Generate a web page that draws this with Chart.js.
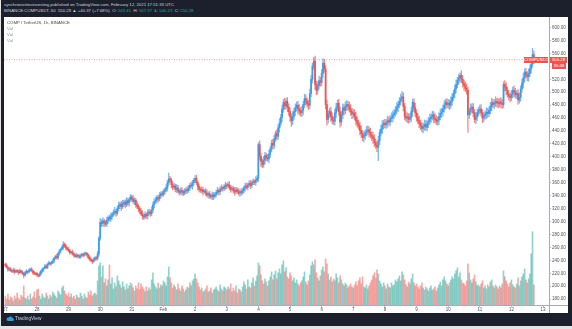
<!DOCTYPE html>
<html>
<head>
<meta charset="utf-8">
<script src="https://cdn.jsdelivr.net/npm/chart.js@4.4.1/dist/chart.umd.min.js"></script>
<style>
  body { margin: 0; width: 572px; height: 329px; background: #e4e4e4; overflow: hidden; font-family: "Liberation Sans", Arial, sans-serif; }
  #frame { position: absolute; left: 1px; top: 0; width: 571px; height: 326px; background: #1c202c; }
  .head { position: absolute; left: 4px; font-size: 4.3px; color: #d1d4dc; white-space: nowrap; }
  .head .g { color: #26a69a; }
  #panel { position: absolute; left: 4px; top: 17px; width: 564px; height: 296px; background: #fff; }
  #panel canvas { position: absolute; left: 0; top: 0; }
  .leg { position: absolute; left: 3px; font-size: 4.3px; color: #8a8d96; white-space: nowrap; }
  .sep { position: absolute; background: #a8abb3; }
  #foot { position: absolute; left: 6px; top: 316px; font-size: 4.8px; color: #c9ccd4; white-space: nowrap; }
  #foot svg { vertical-align: -1px; margin-right: 1px; }
</style>
</head>
<body>
<div id="frame"></div>
<div class="head" style="top:2px">synchronicitiesinvesting published on TradingView.com, February 12, 2021 17:51:33 UTC</div>
<div class="head" style="top:8px">BINANCE:COMPUSDT, 60&nbsp; 550.28 ▲ +40.37 (+7.68%) &nbsp;O: <span class="g">543.41</span> &nbsp;H: <span class="g">567.97</span> &nbsp;L: <span class="g">540.23</span> &nbsp;C: <span class="g">550.28</span></div>
<div id="panel">
  <canvas id="chart" width="564" height="296"></canvas>
  <div class="leg" style="top:3px;color:#444">COMP / TetherUS, 1h, BINANCE</div>
  <div class="leg" style="top:9px">Vol</div>
  <div class="leg" style="top:15px">Vol</div>
  <div class="leg" style="top:21px">Vol</div>
  <div class="sep" style="left:545px;top:288px;width:19px;height:1px"></div>
  <div class="sep" style="left:545px;top:288px;width:1px;height:8px"></div>
</div>
<div id="foot"><svg width="8" height="5" viewBox="0 0 16 10"><path d="M4 10h9a3 3 0 0 0 0-6 4 4 0 0 0-7.5-1A3.5 3.5 0 0 0 4 10z" fill="#2f9be0"/></svg>TradingView</div>

<script>
// COMP/USDT 1h candles, 27 Jan 00:00 to 12 Feb 17:00 UTC (one row per day)
const firstOpen = 234;
const closes = [
  232, 229, 226, 227, 224, 223, 225, 222, 224, 223, 221, 224, 222, 220, 217, 221, 223, 222, 225, 226, 224, 221, 219, 220,
  218, 216, 219, 223, 226, 228, 231, 229, 234, 236, 235, 237, 239, 243, 246, 244, 250, 254, 257, 260, 265, 262, 259, 257,
  255, 252, 253, 250, 248, 246, 248, 247, 245, 247, 249, 248, 250, 251, 248, 244, 242, 240, 238, 241, 244, 243, 250, 274,
  299, 297, 301, 298, 296, 302, 306, 304, 308, 311, 314, 316, 313, 320, 325, 327, 323, 328, 330, 326, 332, 329, 334, 338,
  335, 331, 333, 326, 323, 320, 316, 312, 309, 307, 311, 309, 313, 315, 312, 318, 326, 331, 333, 337, 335, 340, 343, 342,
  346, 349, 352, 360, 366, 364, 357, 353, 355, 350, 352, 347, 345, 348, 346, 344, 347, 349, 348, 352, 356, 355, 360, 364,
  367, 360, 354, 350, 348, 349, 346, 347, 344, 341, 343, 340, 338, 341, 339, 342, 345, 348, 346, 350, 352, 351, 354, 356,
  355, 357, 353, 350, 351, 348, 346, 349, 347, 344, 346, 345, 348, 352, 355, 353, 357, 359, 356, 360, 362, 361, 364, 367,
  419, 401, 393, 388, 395, 402, 399, 397, 404, 412, 421, 418, 428, 436, 432, 445, 452, 461, 474, 484, 479, 486, 477, 470,
  462, 456, 463, 470, 476, 480, 474, 471, 468, 472, 481, 490, 486, 482, 480, 498, 520, 540, 548, 512, 503, 510, 518, 515,
  529, 545, 536, 481, 458, 466, 470, 462, 457, 455, 468, 476, 483, 470, 454, 465, 476, 472, 478, 481, 479, 474, 470, 466,
  468, 462, 456, 452, 448, 441, 436, 430, 433, 437, 440, 442, 438, 434, 431, 428, 422, 418, 415, 425, 437, 443, 449, 452,
  450, 453, 456, 454, 459, 461, 465, 468, 472, 477, 481, 486, 490, 493, 478, 463, 460, 462, 458, 461, 470, 484, 476, 468,
  461, 456, 452, 448, 444, 447, 450, 446, 452, 455, 459, 462, 465, 460, 458, 455, 457, 462, 467, 470, 474, 480, 484, 481,
  483, 480, 486, 492, 498, 505, 512, 518, 522, 526, 520, 514, 510, 506, 503, 465, 470, 475, 477, 468, 458, 462, 468, 472,
  474, 468, 460, 463, 466, 469, 467, 472, 478, 484, 481, 483, 486, 484, 482, 485, 483, 481, 512, 508, 503, 497, 494, 492,
  497, 503, 500, 496, 498, 488, 492, 505, 514, 522, 531, 527, 524, 529, 536, 543.41, 558, 550.28
];
// wick length above / below the candle body
const wickUp = [
  2, 3, 1, 2, 2, 1, 3, 2, 1, 2, 2, 3, 1, 2, 1, 2, 3, 1, 2, 2, 3, 1, 2, 1,
  2, 1, 3, 2, 2, 1, 3, 2, 2, 3, 1, 2, 3, 2, 2, 4, 2, 3, 2, 3, 4, 2, 3, 2,
  3, 2, 1, 3, 2, 2, 3, 1, 2, 3, 2, 2, 3, 2, 1, 2, 3, 2, 2, 3, 2, 2, 4, 3,
  6, 4, 5, 3, 4, 5, 3, 4, 5, 3, 4, 6, 3, 4, 5, 3, 4, 5, 3, 4, 5, 4, 3, 4,
  3, 5, 4, 3, 5, 4, 3, 4, 5, 3, 4, 3, 5, 4, 3, 5, 4, 4, 5, 3, 4, 5, 3, 4,
  4, 3, 5, 4, 9, 4, 3, 5, 4, 3, 5, 4, 3, 4, 5, 3, 4, 3, 5, 4, 3, 5, 4, 3,
  4, 5, 3, 4, 3, 5, 4, 3, 4, 5, 3, 4, 3, 5, 4, 3, 4, 5, 3, 4, 5, 3, 4, 5,
  3, 4, 5, 3, 4, 3, 5, 4, 3, 4, 3, 5, 4, 3, 5, 4, 3, 4, 5, 3, 4, 3, 5, 4,
  3, 6, 5, 4, 6, 5, 4, 5, 6, 4, 5, 6, 5, 4, 6, 5, 7, 5, 6, 5, 7, 4, 6, 5,
  6, 5, 7, 5, 6, 5, 6, 7, 5, 6, 5, 7, 6, 5, 6, 7, 6, 5, 6, 8, 5, 6, 7, 5,
  6, 7, 6, 5, 7, 6, 5, 7, 6, 5, 6, 7, 5, 6, 7, 5, 6, 5, 7, 6, 5, 6, 7, 5,
  6, 5, 7, 6, 5, 6, 7, 5, 6, 5, 7, 6, 5, 6, 5, 7, 6, 5, 6, 7, 5, 6, 7, 5,
  6, 5, 7, 6, 5, 7, 6, 5, 6, 7, 5, 6, 7, 8, 6, 5, 7, 6, 5, 6, 7, 5, 6, 7,
  5, 6, 7, 5, 6, 5, 7, 6, 5, 6, 7, 5, 6, 5, 7, 6, 5, 6, 7, 5, 6, 7, 5, 6,
  6, 5, 7, 6, 5, 6, 7, 5, 6, 4, 7, 6, 5, 6, 7, 5, 6, 7, 5, 6, 5, 7, 6, 5,
  6, 7, 5, 6, 5, 7, 6, 5, 6, 7, 5, 6, 7, 5, 6, 5, 7, 6, 4, 6, 7, 5, 6, 5,
  6, 5, 7, 6, 5, 6, 7, 5, 6, 7, 5, 6, 5, 7, 6, 5, 10, 6
];
const wickDown = [
  2, 1, 3, 2, 1, 2, 2, 3, 1, 2, 3, 1, 2, 2, 4, 1, 2, 3, 1, 2, 2, 3, 1, 2,
  3, 2, 1, 2, 2, 3, 1, 2, 2, 1, 3, 2, 2, 3, 1, 2, 3, 2, 2, 1, 3, 2, 3, 2,
  2, 3, 2, 2, 3, 1, 2, 3, 2, 2, 1, 3, 2, 2, 3, 2, 3, 2, 3, 1, 2, 3, 2, 4,
  3, 5, 4, 6, 3, 4, 5, 3, 4, 5, 3, 4, 5, 3, 4, 5, 6, 3, 4, 5, 3, 4, 5, 3,
  4, 3, 5, 4, 3, 5, 4, 3, 5, 4, 3, 4, 5, 3, 4, 3, 4, 5, 3, 4, 5, 3, 4, 3,
  3, 4, 3, 5, 4, 3, 5, 4, 3, 4, 5, 3, 4, 3, 5, 4, 3, 4, 5, 3, 4, 3, 5, 4,
  4, 3, 5, 4, 3, 4, 5, 3, 4, 3, 5, 4, 3, 4, 5, 3, 4, 3, 5, 4, 3, 4, 3, 5,
  4, 3, 4, 5, 3, 4, 5, 3, 4, 3, 5, 4, 3, 4, 5, 3, 4, 3, 5, 4, 3, 4, 5, 3,
  5, 6, 8, 5, 4, 6, 5, 4, 6, 5, 4, 6, 5, 4, 6, 5, 7, 4, 6, 5, 6, 5, 7, 6,
  7, 9, 6, 5, 6, 5, 7, 6, 5, 6, 7, 5, 6, 5, 7, 6, 5, 6, 5, 8, 7, 6, 5, 6,
  5, 6, 5, 7, 9, 6, 5, 7, 6, 5, 6, 7, 5, 6, 8, 5, 6, 7, 5, 6, 7, 5, 6, 7,
  6, 5, 7, 6, 5, 7, 6, 5, 7, 6, 5, 6, 7, 5, 6, 7, 6, 5, 7, 21, 6, 5, 7, 6,
  5, 6, 7, 5, 6, 5, 7, 6, 5, 6, 7, 5, 6, 5, 7, 6, 5, 7, 6, 5, 6, 7, 5, 6,
  6, 5, 7, 6, 5, 7, 6, 5, 6, 7, 5, 6, 5, 7, 6, 5, 6, 7, 5, 6, 7, 5, 6, 5,
  6, 7, 5, 6, 5, 7, 6, 5, 6, 7, 5, 6, 7, 5, 6, 27, 6, 5, 7, 6, 5, 7, 6, 5,
  6, 5, 7, 6, 5, 7, 6, 5, 6, 7, 5, 6, 5, 7, 6, 5, 7, 6, 5, 6, 7, 5, 6, 7,
  5, 6, 7, 5, 6, 7, 5, 6, 5, 7, 6, 5, 6, 7, 5, 6, 5, 6
];
// hourly volume, COMP
const volumes = [
  4500, 3000, 5500, 2500, 4000, 3500, 2000, 4500, 3000, 6000, 3500, 2500, 5000, 4000, 9500, 3500, 3000, 4500, 2500, 5500, 3000, 4000, 6500, 3500,
  7500, 8000, 4500, 3000, 5500, 4000, 3500, 6000, 4500, 3000, 5000, 4000, 6500, 5500, 4500, 3500, 7000, 6000, 5000, 8500, 9500, 7000, 5500, 4500,
  6000, 4000, 5500, 3500, 4500, 3000, 5000, 4000, 3500, 6000, 4500, 3000, 5500, 4000, 3500, 6500, 5000, 7000, 4500, 5500, 6000, 5000, 12000, 19500,
  21000, 14000, 19500, 11000, 13000, 9500, 12500, 20000, 10500, 13500, 8000, 11000, 9000, 14500, 12000, 10000, 8500, 11500, 9000, 7500, 10500, 8000, 9500, 11000,
  10000, 8500, 7000, 9500, 8000, 11000, 7500, 10500, 9000, 8000, 6500, 9000, 7000, 8500, 7500, 12500, 16000, 10500, 9000, 8000, 11000, 8500, 10000, 9500,
  12000, 11000, 9500, 14000, 19000, 13500, 11000, 8500, 10000, 9000, 7500, 10500, 8000, 7000, 9500, 8000, 6500, 7500, 9000, 8500, 11000, 9500, 12000, 13000,
  15500, 13000, 11000, 9000, 7500, 8500, 6500, 7000, 8000, 9500, 6500, 7000, 8500, 6000, 7500, 8000, 9000, 7500, 6500, 10000, 8000, 7000, 9000, 8500,
  7500, 9000, 8000, 10500, 6500, 8500, 7000, 9500, 6000, 8000, 7500, 6500, 9000, 11500, 10000, 8000, 12500, 9000, 8500, 11000, 13500, 9500, 12000, 14500,
  21000, 19500, 15000, 12000, 10500, 13000, 11500, 9500, 12000, 14000, 16500, 12500, 15000, 17000, 13000, 16000, 18000, 15500, 20000, 22000, 16500, 18500, 14000, 13000,
  16000, 14500, 12000, 13500, 11000, 12500, 10500, 9500, 11000, 12000, 14000, 16500, 11500, 10000, 12000, 15000, 19500, 21500, 20000, 22500, 16000, 13500, 12000, 14500,
  17500, 19000, 16500, 23000, 20500, 15500, 12500, 14000, 11500, 13000, 12000, 15500, 13500, 11000, 14500, 12500, 10500, 9500, 11000, 10000, 8500, 9500, 10500, 9000,
  8500, 10000, 11500, 9500, 12000, 13500, 10500, 14000, 9000, 8500, 10000, 8000, 9500, 11000, 12500, 14500, 16000, 13500, 17500, 15500, 12000, 10500, 9000, 11000,
  9500, 8000, 10500, 9000, 8500, 11000, 9500, 10000, 12500, 11500, 13000, 14500, 12000, 16500, 15000, 12500, 10000, 9000, 11500, 10500, 13000, 15500, 11000, 9500,
  10500, 9000, 8000, 9500, 11000, 8500, 7500, 9000, 8000, 7000, 8500, 9500, 7500, 8000, 9000, 7000, 8500, 10000, 11500, 9500, 12500, 14000, 12000, 10500,
  9500, 11000, 12500, 14000, 13000, 15500, 17000, 18500, 14000, 16000, 12500, 11000, 10500, 9500, 12000, 20500, 16000, 12500, 11000, 13000, 15000, 11500, 9500, 10000,
  9000, 10500, 12000, 8500, 9500, 8000, 10000, 9000, 11500, 12500, 9500, 8500, 10000, 9000, 8000, 9500, 8500, 10500, 17000, 14000, 12000, 10500, 9000, 11000,
  12500, 10000, 9000, 8500, 10500, 13500, 9500, 12000, 14000, 15500, 18000, 12500, 11000, 13000, 15500, 25500, 36500, 10000
];
const dayLabels = ['27', '28', '29', '30', '31', 'Feb', '2', '3', '4', '5', '6', '7', '8', '9', '10', '11', '12', '13'];
const priceTicks = [180, 200, 220, 240, 260, 280, 300, 320, 340, 360, 380, 400, 420, 440, 460, 480, 500, 520, 540, 560, 580, 600];

const UP = '#3d9be9', DOWN = '#ef5350';

const opens = closes.map((c, i) => i === 0 ? firstOpen : closes[i - 1]);
const isUp = closes.map((c, i) => c >= opens[i]);
const lastClose = closes[closes.length - 1];

const bodies = closes.map((c, i) => ({ x: i, y: [opens[i], c] }));
const wicks = closes.map((c, i) => ({
  x: i,
  y: [Math.min(opens[i], c) - (wickDown[i] || 0), Math.max(opens[i], c) + (wickUp[i] || 0)]
}));
const vols = volumes.map((v, i) => ({ x: i, y: v }));

const xMin = -1, xMax = 412.5;

// last price line tags on the right edge
const priceTag = {
  id: 'priceTag',
  afterDatasetsDraw(chart) {
    const { ctx, chartArea, scales } = chart;
    const py = Math.round(scales.y.getPixelForValue(lastClose));
    const r = chartArea.right;
    ctx.save();
    ctx.font = '4.3px "Liberation Sans", Arial, sans-serif';
    ctx.textBaseline = 'middle';
    ctx.textAlign = 'center';
    ctx.fillStyle = DOWN;
    ctx.fillRect(r - 25, py - 3, 24, 6);
    ctx.fillRect(r + 1, py - 3, 17, 6);
    ctx.fillRect(r + 3, py + 3, 14, 6);
    ctx.fillStyle = '#fff';
    ctx.fillText('COMPUSDT', r - 13, py);
    ctx.fillText(lastClose.toFixed(2), r + 9.5, py);
    ctx.fillText('30:48', r + 10, py + 6);
    ctx.restore();
  }
};

new Chart(document.getElementById('chart'), {
  type: 'bar',
  data: {
    datasets: [
      {
        data: bodies,
        order: 0,
        grouped: false,
        barThickness: 1.1,
        minBarLength: 1,
        backgroundColor: (c) => isUp[c.dataIndex] ? UP : DOWN
      },
      {
        data: wicks,
        order: 1,
        grouped: false,
        barThickness: 0.6,
        backgroundColor: (c) => isUp[c.dataIndex] ? 'rgba(61,155,233,0.7)' : 'rgba(239,83,80,0.7)'
      },
      {
        type: 'line',
        data: [{ x: xMin, y: lastClose }, { x: xMax, y: lastClose }],
        order: 2,
        borderColor: 'rgba(239,83,80,0.55)',
        borderWidth: 1,
        borderDash: [1, 1.5],
        pointRadius: 0
      },
      {
        data: vols,
        yAxisID: 'v',
        order: 3,
        grouped: false,
        barThickness: 1,
        backgroundColor: (c) => isUp[c.dataIndex] ? 'rgba(38,166,154,0.5)' : 'rgba(239,83,80,0.5)'
      }
    ]
  },
  options: {
    responsive: false,
    animation: false,
    devicePixelRatio: 1,
    layout: { padding: 0 },
    plugins: { legend: { display: false }, tooltip: { enabled: false } },
    scales: {
      x: {
        type: 'linear',
        min: xMin,
        max: xMax,
        offset: false,
        grid: { offset: false, drawOnChartArea: false, tickLength: 2, color: '#b8bbc2' },
        border: { display: true, color: '#a8abb3' },
        ticks: {
          autoSkip: false,
          maxRotation: 0,
          padding: 0,
          color: '#50535e',
          font: { size: 4.5, family: '"Liberation Sans", Arial, sans-serif' },
          callback: (v, i) => dayLabels[i]
        },
        afterBuildTicks: (s) => { s.ticks = dayLabels.map((d, i) => ({ value: i * 24 })); },
        afterFit: (s) => { s.height = 8; s.paddingLeft = 0; s.paddingRight = 0; }
      },
      y: {
        position: 'right',
        min: 171,
        max: 616.3,
        grid: { drawOnChartArea: false, tickLength: 2, color: '#b8bbc2' },
        border: { display: true, color: '#a8abb3' },
        ticks: {
          padding: 1,
          color: '#50535e',
          font: { size: 4.5, family: '"Liberation Sans", Arial, sans-serif' },
          callback: (v) => v.toFixed(2)
        },
        afterBuildTicks: (s) => { s.ticks = priceTicks.map((v) => ({ value: v })); },
        afterFit: (s) => { s.width = 19; s.paddingTop = 0; s.paddingBottom = 0; }
      },
      v: {
        display: false,
        min: 0,
        max: 143500
      }
    }
  },
  plugins: [priceTag]
});
</script>
</body>
</html>
